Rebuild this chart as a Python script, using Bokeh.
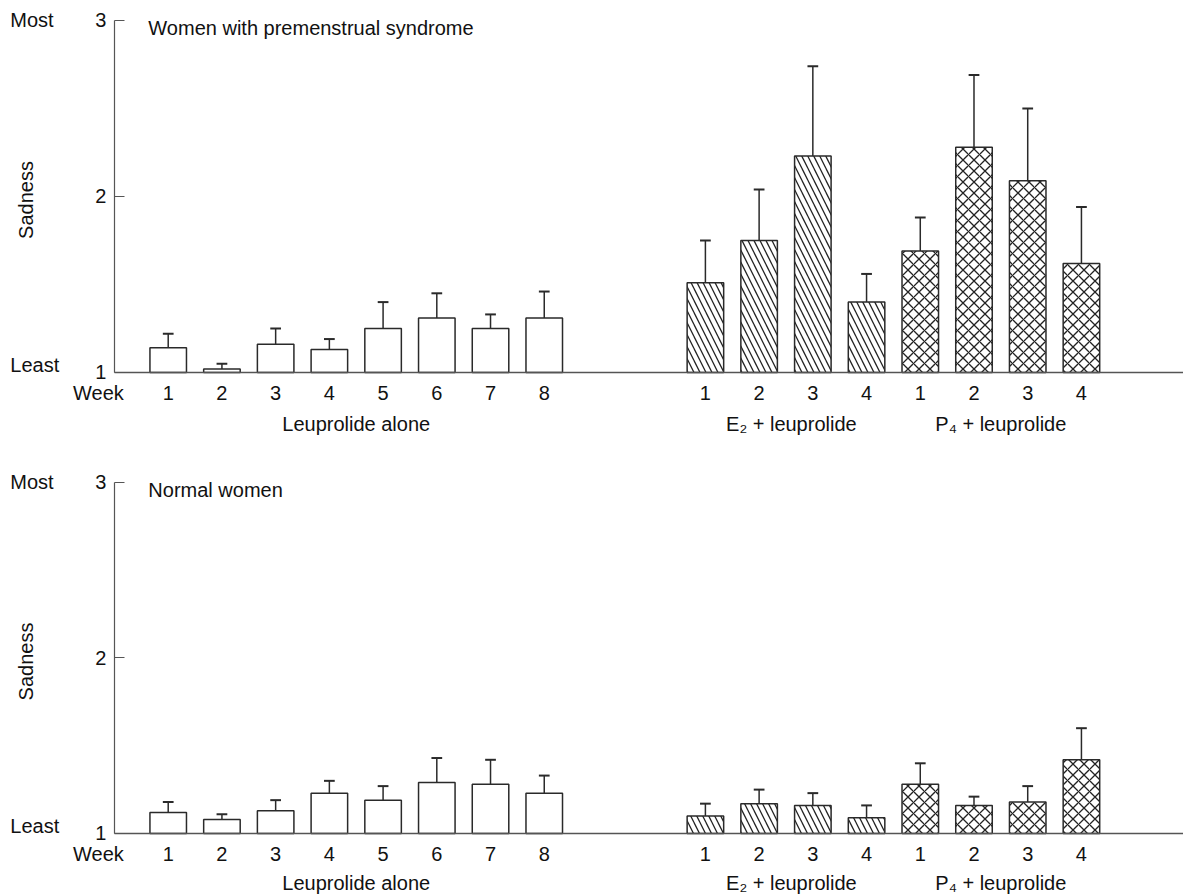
import math
from bokeh.plotting import figure
from bokeh.layouts import column
from bokeh.models import FixedTicker, Label, ColumnDataSource
from bokeh.embed import file_html
from bokeh.resources import INLINE

# ---------------- data ----------------
week_labels_leup = ["1", "2", "3", "4", "5", "6", "7", "8"]
week_labels_hormone = ["1", "2", "3", "4"]
group_names = ["Leuprolide alone", "E\u2082 + leuprolide", "P\u2084 + leuprolide"]
y_tick_values = [1, 2, 3]
scale_words = {1: "Least", 3: "Most"}

# Women with premenstrual syndrome
pms_leup_mean = [1.14, 1.02, 1.16, 1.13, 1.25, 1.31, 1.25, 1.31]
pms_leup_se = [0.08, 0.03, 0.09, 0.06, 0.15, 0.14, 0.08, 0.15]
pms_e2_mean = [1.51, 1.75, 2.23, 1.40]
pms_e2_se = [0.24, 0.29, 0.51, 0.16]
pms_p4_mean = [1.69, 2.28, 2.09, 1.62]
pms_p4_se = [0.19, 0.41, 0.41, 0.32]

# Normal women
nor_leup_mean = [1.12, 1.08, 1.13, 1.23, 1.19, 1.29, 1.28, 1.23]
nor_leup_se = [0.06, 0.03, 0.06, 0.07, 0.08, 0.14, 0.14, 0.10]
nor_e2_mean = [1.10, 1.17, 1.16, 1.09]
nor_e2_se = [0.07, 0.08, 0.07, 0.07]
nor_p4_mean = [1.28, 1.16, 1.18, 1.42]
nor_p4_se = [0.12, 0.05, 0.09, 0.18]

# ---------------- layout helpers ----------------
FONT = "Liberation Sans"
FS = "20px"
TXT = "#111111"
AX = "#555555"
BAR_LINE = "#2a2a2a"

slots_leup = list(range(1, 9))
slots_e2 = list(range(11, 15))
slots_p4 = list(range(15, 19))
group_centers = [4.5, 12.6, 16.5]
X_END = 19.9


def add_bars(p, xs, means, ses, hatch):
    src = ColumnDataSource(dict(
        x=xs, top=means,
        up=[m + s for m, s in zip(means, ses)],
        cl=[x - 0.1 for x in xs], cr=[x + 0.1 for x in xs],
    ))
    p.segment(x0="x", y0="top", x1="x", y1="up", source=src,
              line_color=BAR_LINE, line_width=1.5)
    p.segment(x0="cl", y0="up", x1="cr", y1="up", source=src,
              line_color=BAR_LINE, line_width=2)
    kw = dict(x="x", top="top", bottom=1, width=0.68, source=src,
              fill_color="white", line_color=BAR_LINE, line_width=1.5)
    if hatch is not None:
        kw.update(hatch_pattern=hatch[0], hatch_scale=hatch[1],
                  hatch_weight=1.3, hatch_color="#222222")
    p.vbar(**kw)


def make_panel(title, leup_m, leup_s, e2_m, e2_s, p4_m, p4_s,
               height, y_lo, y_hi, group_y):
    p = figure(width=1183, height=height, x_range=(-2.122, X_END),
               y_range=(y_lo, y_hi),
               output_backend="svg", toolbar_location=None,
               min_border_left=0, min_border_right=0,
               min_border_top=0, min_border_bottom=0)
    p.outline_line_color = None
    p.xgrid.visible = False
    p.ygrid.visible = False
    p.background_fill_color = "white"
    p.border_fill_color = "white"

    # y axis, drawn at x = 0
    ya = p.yaxis[0]
    ya.fixed_location = 0
    ya.bounds = (1, 3)
    ya.ticker = FixedTicker(ticks=y_tick_values)
    ya.major_tick_in = 10
    ya.major_tick_out = 0
    ya.minor_tick_line_color = None
    ya.axis_line_color = AX
    ya.axis_line_width = 1.2
    ya.major_tick_line_color = AX
    ya.major_tick_line_width = 1.2
    ya.major_label_standoff = 8
    ya.major_label_text_font = FONT
    ya.major_label_text_font_size = FS
    ya.major_label_text_color = TXT

    # x axis (week numbers), drawn at y = 1
    xa = p.xaxis[0]
    xa.fixed_location = 1
    xa.bounds = (0, X_END)
    ticks = slots_leup + slots_e2 + slots_p4
    labels = week_labels_leup + week_labels_hormone + week_labels_hormone
    xa.ticker = FixedTicker(ticks=ticks)
    xa.major_label_overrides = {t: l for t, l in zip(ticks, labels)}
    xa.major_tick_line_color = None
    xa.minor_tick_line_color = None
    xa.axis_line_color = AX
    xa.axis_line_width = 1.6
    xa.major_label_standoff = 8
    xa.major_label_text_font = FONT
    xa.major_label_text_font_size = FS
    xa.major_label_text_color = TXT

    add_bars(p, slots_leup, leup_m, leup_s, None)
    add_bars(p, slots_e2, e2_m, e2_s, ("left_diagonal_line", 12))
    add_bars(p, slots_p4, p4_m, p4_s, ("diagonal_cross", 11))

    def lab(x, y, text, align="left", angle=0.0):
        p.add_layout(Label(x=x, y=y, text=text, text_font=FONT,
                           text_font_size=FS, text_color=TXT,
                           text_align=align, text_baseline="middle",
                           angle=angle))

    lab(0.63, 2.96, title)
    lab(-1.94, 3.0, scale_words[3])
    lab(-1.94, 1.04, scale_words[1])
    lab(-1.64, 1.98, "Sadness", align="center", angle=math.pi / 2)
    lab(-0.30, 0.886, "Week", align="center")
    for gx, gname in zip(group_centers, group_names):
        lab(gx, group_y, gname, align="center")
    return p


p1 = make_panel("Women with premenstrual syndrome",
                pms_leup_mean, pms_leup_se, pms_e2_mean, pms_e2_se,
                pms_p4_mean, pms_p4_se, 450, 0.5568, 3.1136, 0.705)
p2 = make_panel("Normal women",
                nor_leup_mean, nor_leup_se, nor_e2_mean, nor_e2_se,
                nor_p4_mean, nor_p4_se, 446, 0.641, 3.1823, 0.72)

layout = column(p1, p2, spacing=0)
open("out.html", "w").write(file_html(layout, INLINE))
